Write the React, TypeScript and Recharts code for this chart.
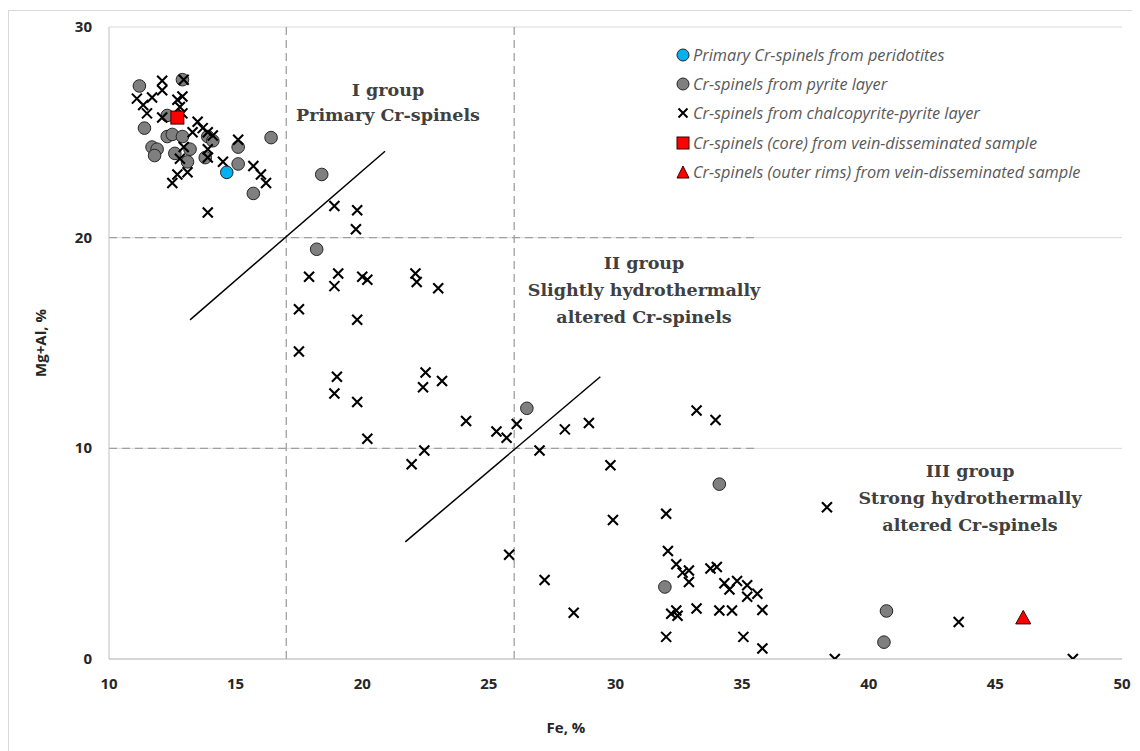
import React from 'react';
import { ScatterChart, Scatter, XAxis, YAxis, CartesianGrid, ReferenceLine } from 'recharts';

type P = { fe: number; mg: number };
const mk = (a: number[][]): P[] => a.map(([fe, mg]) => ({ fe, mg }));

const peridotites: P[] = mk([[14.65, 23.1]]);

const pyriteLayer: P[] = mk([
  [11.2, 27.2], [12.9, 27.5], [12.3, 25.8], [11.4, 25.2], [12.3, 24.8], [12.5, 24.9], [12.9, 24.8],
  [11.7, 24.3], [11.9, 24.2], [11.8, 23.9], [12.6, 24.0], [13.2, 24.2], [13.1, 23.6], [13.9, 24.8],
  [14.1, 24.6], [13.8, 23.8], [15.1, 24.3], [15.1, 23.5], [16.4, 24.75], [15.7, 22.1], [18.4, 23.0],
  [18.2, 19.45], [26.5, 11.9], [34.1, 8.3], [31.95, 3.42], [40.7, 2.28], [40.6, 0.8],
]);

const chalcopyriteLayer: P[] = mk([
  [12.1, 27.45], [12.1, 27.0], [12.95, 27.5], [11.1, 26.6], [11.35, 26.3], [11.5, 25.9], [11.7, 26.65],
  [12.7, 26.55], [12.9, 26.7], [12.8, 26.2], [12.1, 25.7], [12.9, 25.9], [13.5, 25.5], [13.7, 25.2],
  [13.9, 25.0], [14.1, 24.85], [13.3, 25.0], [13.9, 24.2], [13.9, 23.8], [12.95, 24.3], [12.8, 23.75],
  [15.1, 24.65], [14.5, 23.6], [15.7, 23.4], [16.0, 23.0], [16.2, 22.6], [12.7, 23.0], [13.1, 23.1],
  [12.5, 22.6], [13.9, 21.2],
  [18.9, 21.5], [19.8, 21.3], [19.75, 20.4], [17.9, 18.15], [19.05, 18.3], [18.9, 17.7], [20.0, 18.15],
  [20.2, 18.0], [22.1, 18.3], [22.15, 17.9], [23.0, 17.6], [17.5, 16.6], [17.5, 14.6], [19.8, 16.1],
  [19.0, 13.4], [18.9, 12.6], [19.8, 12.2], [20.2, 10.45], [22.5, 13.6], [22.4, 12.9], [23.15, 13.2],
  [24.1, 11.3], [25.3, 10.8], [25.7, 10.5], [22.45, 9.9], [21.95, 9.25], [26.1, 11.15], [28.0, 10.9],
  [28.95, 11.2], [27.0, 9.9], [29.8, 9.2], [29.9, 6.6], [25.8, 4.95], [27.2, 3.75], [28.35, 2.2],
  [32.0, 6.9], [33.2, 11.8], [33.95, 11.35], [38.35, 7.2],
  [32.07, 5.13], [32.4, 4.5], [32.65, 4.1], [32.9, 4.2], [32.9, 3.65], [33.75, 4.3], [34.0, 4.37],
  [34.3, 3.6], [34.5, 3.3], [34.8, 3.7], [35.2, 3.5], [35.2, 2.95], [35.6, 3.1], [32.2, 2.15],
  [32.4, 2.3], [32.45, 2.05], [33.2, 2.4], [34.1, 2.3], [34.6, 2.3], [35.8, 2.33], [32.0, 1.05],
  [35.05, 1.05], [35.8, 0.5], [38.66, 0], [43.55, 1.76], [48.06, 0],
]);

const veinCore: P[] = mk([[12.7, 25.7]]);
const veinRims: P[] = mk([[46.1, 1.95]]);

const xTicks = [10, 15, 20, 25, 30, 35, 40, 45, 50];
const yTicks = [0, 10, 20, 30];

const legendItems = [
  { key: 'blue', label: 'Primary Cr-spinels from peridotites' },
  { key: 'gray', label: 'Cr-spinels from pyrite layer' },
  { key: 'cross', label: 'Cr-spinels from chalcopyrite-pyrite layer' },
  { key: 'square', label: 'Cr-spinels (core) from vein-disseminated sample' },
  { key: 'tri', label: 'Cr-spinels (outer rims) from vein-disseminated sample' },
];

const groupLabels = [
  { lines: ['I group', 'Primary Cr-spinels'], x: 388, y: 90, gap: 25 },
  { lines: ['II group', 'Slightly hydrothermally', 'altered Cr-spinels'], x: 644, y: 263, gap: 27 },
  { lines: ['III group', 'Strong hydrothermally', 'altered Cr-spinels'], x: 970, y: 471, gap: 27 },
];

const circleShape = (fill: string) => (props: any) => (
  <circle cx={props.cx} cy={props.cy} r={6.3} fill={fill} stroke="#262626" strokeWidth={1} />
);
const crossShape = (props: any) => {
  const { cx, cy } = props;
  const s = 5;
  return (
    <path d={`M${cx - s},${cy - s}L${cx + s},${cy + s}M${cx + s},${cy - s}L${cx - s},${cy + s}`} stroke="#000" strokeWidth={2.1} fill="none" />
  );
};
const squareShape = (props: any) => (
  <rect x={props.cx - 6.5} y={props.cy - 6.5} width={13} height={13} fill="#ff0000" stroke="#3a0000" strokeWidth={1} />
);
const triShape = (props: any) => {
  const { cx, cy } = props;
  return <path d={`M${cx},${cy - 7.5}L${cx + 7.5},${cy + 6}L${cx - 7.5},${cy + 6}Z`} fill="#ff0000" stroke="#3a0000" strokeWidth={1} />;
};

const LegendMarker = ({ kind }: { kind: string }) => (
  <svg width={14} height={14} style={{ marginRight: 3, flex: 'none' }}>
    {kind === 'blue' && <circle cx={7} cy={7} r={6} fill="#00b0f0" stroke="#262626" strokeWidth={1} />}
    {kind === 'gray' && <circle cx={7} cy={7} r={6} fill="#7f7f7f" stroke="#262626" strokeWidth={1} />}
    {kind === 'cross' && <path d="M2.5,2.5L11.5,11.5M11.5,2.5L2.5,11.5" stroke="#000" strokeWidth={2} />}
    {kind === 'square' && <rect x={1} y={1} width={12} height={12} fill="#ff0000" stroke="#3a0000" strokeWidth={1} />}
    {kind === 'tri' && <path d="M7,1L13,13L1,13Z" fill="#ff0000" stroke="#3a0000" strokeWidth={1} />}
  </svg>
);

const XTick = (props: any) => (
  <text x={props.x} y={props.y + 30} textAnchor="middle" fontFamily="'Open Sans', sans-serif" fontWeight={700} fontSize={15} fill="#262626">
    {props.payload.value}
  </text>
);
const YTick = (props: any) => (
  <text x={props.x - 17} y={props.y + 5} textAnchor="end" fontFamily="'Open Sans', sans-serif" fontWeight={700} fontSize={15} fill="#262626">
    {props.payload.value}
  </text>
);

const dash = '#a0a0a0';

export default function App() {
  return (
    <div style={{ position: 'relative', width: 1132, height: 743 }}>
      <div style={{ position: 'absolute', left: 0, top: 2, width: 1130, height: 760, border: '1px solid #d9d9d9', boxSizing: 'border-box' }} />
      <ScatterChart width={1132} height={743} margin={{ top: 19, right: 18, bottom: 0, left: 0 }}>
        <CartesianGrid vertical={false} stroke="#d9d9d9" strokeWidth={1} />
        <XAxis
          type="number"
          dataKey="fe"
          domain={[10, 50]}
          ticks={xTicks}
          interval={0}
          height={92}
          tickSize={0}
          tickMargin={0}
          tick={<XTick />}
          axisLine={{ stroke: '#bfbfbf' }}
          tickLine={false}
          allowDataOverflow
        />
        <YAxis
          type="number"
          dataKey="mg"
          domain={[0, 30]}
          ticks={yTicks}
          interval={0}
          width={101}
          tickSize={0}
          tickMargin={0}
          tick={<YTick />}
          axisLine={{ stroke: '#bfbfbf' }}
          tickLine={false}
          allowDataOverflow
        />
        <ReferenceLine x={17} stroke={dash} strokeWidth={1.3} strokeDasharray="8 5" />
        <ReferenceLine x={26} stroke={dash} strokeWidth={1.3} strokeDasharray="8 5" />
        <ReferenceLine segment={[{ x: 10, y: 20 }, { x: 35.6, y: 20 }]} stroke={dash} strokeWidth={1.3} strokeDasharray="8 5" />
        <ReferenceLine segment={[{ x: 10, y: 10 }, { x: 35.6, y: 10 }]} stroke={dash} strokeWidth={1.3} strokeDasharray="8 5" />
        <ReferenceLine segment={[{ x: 13.2, y: 16.1 }, { x: 20.9, y: 24.1 }]} stroke="#000" strokeWidth={1.5} />
        <ReferenceLine segment={[{ x: 21.7, y: 5.56 }, { x: 29.4, y: 13.4 }]} stroke="#000" strokeWidth={1.5} />
        <Scatter data={pyriteLayer} shape={circleShape('#7f7f7f')} isAnimationActive={false} />
        <Scatter data={chalcopyriteLayer} shape={crossShape} isAnimationActive={false} />
        <Scatter data={peridotites} shape={circleShape('#00b0f0')} isAnimationActive={false} />
        <Scatter data={veinCore} shape={squareShape} isAnimationActive={false} />
        <Scatter data={veinRims} shape={triShape} isAnimationActive={false} />
      </ScatterChart>

      <div style={{ position: 'absolute', left: 32, top: 335, transform: 'translate(-50%, -50%) rotate(-90deg)', fontFamily: "'Open Sans', sans-serif", fontWeight: 700, fontSize: 15, color: '#262626', whiteSpace: 'nowrap' }}>
        Mg+Al, %
      </div>
      <div style={{ position: 'absolute', left: 558, top: 719, transform: 'translate(-50%, -50%)', fontFamily: "'Open Sans', sans-serif", fontWeight: 700, fontSize: 15, color: '#262626', whiteSpace: 'nowrap' }}>
        Fe, %
      </div>

      {legendItems.map((it, i) => (
        <div key={it.key} style={{ position: 'absolute', left: 668, top: 38 + i * 29.2, height: 18, display: 'flex', alignItems: 'center', fontFamily: "'Open Sans', sans-serif", fontStyle: 'italic', fontSize: 16.3, color: '#595959', whiteSpace: 'nowrap' }}>
          <LegendMarker kind={it.key} />
          <span>{it.label}</span>
        </div>
      ))}

      {groupLabels.map((g, gi) => (
        <div key={gi}>
          {g.lines.map((ln, li) => (
            <div key={li} style={{ position: 'absolute', left: g.x - 8, top: g.y - 8 + li * g.gap, transform: 'translate(-50%, -50%)', fontFamily: "'DejaVu Serif', serif", fontWeight: 700, fontSize: 17.5, color: '#404040', whiteSpace: 'nowrap' }}>
              {ln}
            </div>
          ))}
        </div>
      ))}
    </div>
  );
}
